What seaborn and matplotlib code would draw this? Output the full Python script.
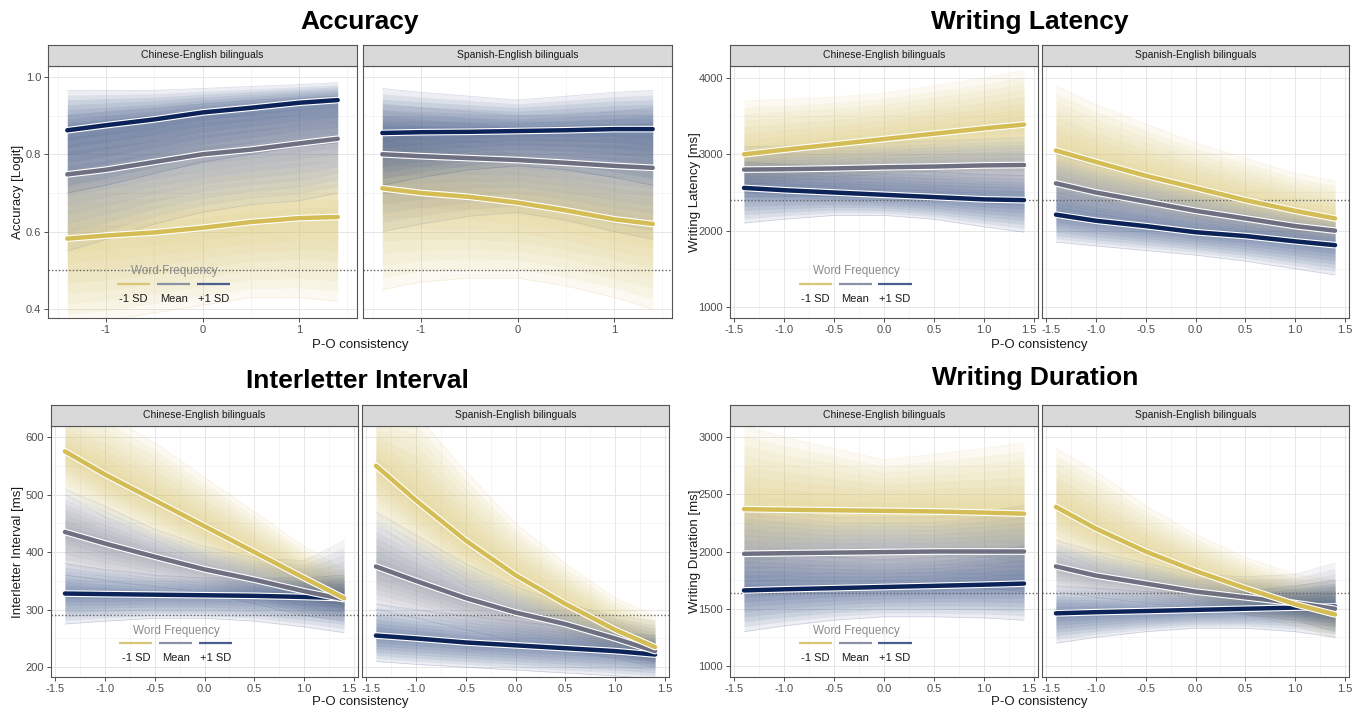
import numpy as np
import pandas as pd
import matplotlib.pyplot as plt
import matplotlib.patheffects as pe
import matplotlib.transforms as mtrans
import seaborn as sns

# -- data (rows: -1 SD, Mean, +1 SD word frequency)
x_pts = [-1.4, -1.0, -0.5, 0.0, 0.5, 1.0, 1.4]
groups = ["-1 SD", "Mean", "+1 SD"]
facets = ["Chinese-English bilinguals", "Spanish-English bilinguals"]

# Accuracy, Chinese-English
acc_ce_mean = [[0.582, 0.590, 0.598, 0.610, 0.625, 0.635, 0.638],
               [0.748, 0.760, 0.780, 0.800, 0.812, 0.828, 0.840],
               [0.862, 0.875, 0.890, 0.908, 0.920, 0.933, 0.940]]
acc_ce_lo = [[0.36, 0.37, 0.39, 0.41, 0.43, 0.43, 0.42],
             [0.55, 0.58, 0.62, 0.65, 0.67, 0.68, 0.70],
             [0.70, 0.72, 0.75, 0.78, 0.80, 0.82, 0.83]]
acc_ce_hi = [[0.76, 0.76, 0.77, 0.78, 0.79, 0.80, 0.80],
             [0.90, 0.91, 0.92, 0.93, 0.94, 0.945, 0.95],
             [0.965, 0.965, 0.965, 0.97, 0.975, 0.98, 0.985]]
# Accuracy, Spanish-English
acc_se_mean = [[0.712, 0.700, 0.690, 0.675, 0.655, 0.632, 0.620],
               [0.800, 0.795, 0.790, 0.785, 0.778, 0.770, 0.765],
               [0.855, 0.857, 0.858, 0.860, 0.862, 0.865, 0.865]]
acc_se_lo = [[0.45, 0.47, 0.48, 0.48, 0.46, 0.43, 0.40],
             [0.60, 0.62, 0.64, 0.65, 0.63, 0.60, 0.58],
             [0.72, 0.74, 0.76, 0.77, 0.76, 0.74, 0.72]]
acc_se_hi = [[0.86, 0.84, 0.82, 0.80, 0.78, 0.76, 0.75],
             [0.93, 0.92, 0.91, 0.90, 0.90, 0.91, 0.92],
             [0.97, 0.96, 0.95, 0.94, 0.95, 0.96, 0.965]]

# Writing latency, Chinese-English
lat_ce_mean = [[3000, 3060, 3130, 3200, 3270, 3340, 3390],
               [2800, 2805, 2815, 2830, 2840, 2855, 2860],
               [2560, 2530, 2500, 2470, 2440, 2410, 2400]]
lat_ce_lo = [[2600, 2650, 2700, 2750, 2780, 2800, 2800],
             [2450, 2450, 2450, 2450, 2420, 2400, 2380],
             [2100, 2150, 2200, 2200, 2150, 2050, 1980]]
lat_ce_hi = [[3700, 3720, 3750, 3800, 3900, 4000, 4100],
             [3100, 3110, 3130, 3150, 3180, 3200, 3220],
             [2900, 2870, 2840, 2800, 2770, 2740, 2720]]
# Writing latency, Spanish-English
lat_se_mean = [[3050, 2900, 2720, 2560, 2400, 2260, 2160],
               [2620, 2500, 2380, 2260, 2160, 2060, 2000],
               [2210, 2130, 2060, 1980, 1930, 1860, 1810]]
lat_se_lo = [[2500, 2400, 2280, 2150, 2050, 1950, 1900],
             [2200, 2120, 2050, 1980, 1900, 1830, 1780],
             [1850, 1800, 1740, 1680, 1600, 1500, 1420]]
lat_se_hi = [[3900, 3650, 3400, 3150, 2950, 2750, 2650],
             [3000, 2850, 2700, 2550, 2400, 2280, 2200],
             [2600, 2480, 2350, 2250, 2150, 2070, 2000]]

# Interletter interval, Chinese-English
ili_ce_mean = [[575, 535, 490, 445, 400, 355, 320],
               [435, 415, 392, 370, 352, 332, 318],
               [328, 327, 326, 325, 324, 322, 320]]
ili_ce_lo = [[500, 460, 420, 380, 350, 320, 300],
             [360, 350, 340, 330, 310, 290, 280],
             [275, 280, 285, 285, 280, 270, 260]]
ili_ce_hi = [[650, 640, 590, 530, 470, 410, 370],
             [510, 480, 440, 410, 390, 385, 420],
             [380, 370, 360, 355, 355, 355, 360]]
# Interletter interval, Spanish-English
ili_se_mean = [[550, 490, 420, 360, 310, 265, 235],
               [375, 350, 320, 295, 275, 250, 228],
               [255, 250, 243, 238, 233, 228, 222]]
ili_se_lo = [[450, 400, 340, 300, 260, 230, 210],
             [300, 285, 265, 245, 230, 215, 200],
             [210, 205, 200, 195, 190, 185, 180]]
ili_se_hi = [[650, 640, 540, 450, 380, 320, 290],
             [470, 430, 380, 340, 310, 290, 280],
             [310, 300, 290, 280, 270, 260, 255]]

# Writing duration, Chinese-English
dur_ce_mean = [[2370, 2365, 2360, 2355, 2350, 2340, 2330],
               [1980, 1985, 1990, 1995, 2000, 2000, 2000],
               [1660, 1670, 1680, 1690, 1700, 1710, 1720]]
dur_ce_lo = [[1900, 1950, 2000, 2050, 2000, 1950, 1900],
             [1650, 1680, 1700, 1700, 1700, 1680, 1650],
             [1300, 1350, 1400, 1430, 1430, 1420, 1400]]
dur_ce_hi = [[3100, 3000, 2900, 2800, 2850, 2900, 2950],
             [2400, 2350, 2300, 2300, 2300, 2350, 2400],
             [2000, 1980, 1950, 1930, 1950, 2000, 2050]]
# Writing duration, Spanish-English
dur_se_mean = [[2390, 2200, 2000, 1830, 1680, 1540, 1450],
               [1870, 1790, 1720, 1650, 1600, 1550, 1500],
               [1460, 1470, 1480, 1490, 1500, 1510, 1520]]
dur_se_lo = [[2000, 1850, 1700, 1570, 1450, 1350, 1250],
             [1650, 1600, 1550, 1500, 1450, 1400, 1300],
             [1200, 1250, 1300, 1330, 1330, 1300, 1250]]
dur_se_hi = [[2900, 2700, 2400, 2150, 1950, 1800, 1750],
             [2100, 2000, 1900, 1800, 1780, 1800, 1900],
             [1700, 1680, 1650, 1630, 1650, 1700, 1750]]

# reference (dotted) lines
acc_ref, lat_ref, ili_ref, dur_ref = 0.5, 2400, 290, 1640

# -- colours
mean_cols = ["#D4BD55", "#6E7082", "#0B2358"]
band_cols = ["#D9C36B", "#7D8493", "#2E4A80"]
legend_cols = ["#D8C678", "#8B92A3", "#4B5E92"]

sns.set_theme(style="white")
plt.rcParams["font.family"] = ["Liberation Sans", "DejaVu Sans"]

W, H = 1357, 710
fig = plt.figure(figsize=(W / 100, H / 100), dpi=100)


def px_axes(x0, x1, y0, y1):
    # pixel box (y from top) -> figure axes
    return fig.add_axes([x0 / W, 1 - y1 / H, (x1 - x0) / W, (y1 - y0) / H])


def to_long(mean):
    rows = []
    for g, vals in zip(groups, mean):
        for xv, yv in zip(x_pts, vals):
            rows.append({"x": xv, "y": yv, "group": g})
    return pd.DataFrame(rows)


def draw_facet(ax, mean, lo, hi, ref):
    xs = np.array(x_pts)
    # shaded draws: layered bands, denser towards the mean curve
    shades = [1.0, 0.88, 0.76, 0.64, 0.52, 0.40, 0.28, 0.16]
    for g in range(3):
        m, l, h = np.array(mean[g]), np.array(lo[g]), np.array(hi[g])
        for k in shades:
            ax.fill_between(xs, m + k * (l - m), m + k * (h - m),
                            color=band_cols[g], alpha=0.09, lw=0, zorder=2)
        ax.plot(xs, h, color=band_cols[g], alpha=0.2, lw=0.5, zorder=2)
        ax.plot(xs, l, color=band_cols[g], alpha=0.2, lw=0.5, zorder=2)
    ax.axhline(ref, color="#666666", ls=(0, (1, 1.5)), lw=1.0, zorder=3)
    df = to_long(mean)
    sns.lineplot(data=df, x="x", y="y", hue="group", hue_order=groups[::-1],
                 palette=dict(zip(groups, mean_cols)), ax=ax, lw=3.2,
                 legend=False, zorder=4,
                 path_effects=[pe.Stroke(linewidth=4.8, foreground="white"), pe.Normal()])


def style_facet(ax, xlim, ylim, xticks, yticks, xminor, yminor, idx, xfmt):
    ax.set_xlim(*xlim)
    ax.set_ylim(*ylim)
    ax.set_xticks(xticks)
    ax.set_yticks(yticks)
    ax.set_xticks(xminor, minor=True)
    ax.set_yticks(yminor, minor=True)
    ax.grid(True, which="major", color="#E6E6E6", lw=0.7, zorder=0)
    ax.grid(True, which="minor", color="#F2F2F2", lw=0.5, zorder=0)
    ax.set_axisbelow(True)
    ax.set_xticklabels([xfmt.format(t) for t in xticks], fontsize=8, color="#4D4D4D")
    ax.tick_params(which="major", length=3, width=0.6, color="#333333", pad=2, bottom=True)
    ax.tick_params(which="minor", length=0)
    # nudge the labels that meet at the facet boundary
    labs = ax.get_xticklabels()
    if len(xticks) > 3:
        lab = labs[-1] if idx == 0 else labs[0]
        dx = -3.5 if idx == 0 else 3.5
        lab.set_transform(lab.get_transform() +
                          mtrans.ScaledTranslation(dx / 72, 0, fig.dpi_scale_trans))
    if idx == 0:
        ax.set_yticklabels([str(t) for t in yticks], fontsize=8, color="#4D4D4D")
        ax.tick_params(axis="y", left=True)
    else:
        ax.tick_params(axis="y", left=False, labelleft=False)
    ax.set_xlabel("")
    ax.set_ylabel("")
    for s in ax.spines.values():
        s.set_color("#555555")
        s.set_linewidth(0.8)
        s.set_zorder(6)


def add_strip(x0, x1, y0, y1, label):
    sax = px_axes(x0, x1, y0, y1)
    sax.set_facecolor("#D9D9D9")
    sax.set_xticks([])
    sax.set_yticks([])
    for s in sax.spines.values():
        s.set_color("#555555")
        s.set_linewidth(0.8)
    sax.text(0.5, 0.5, label, ha="center", va="center", fontsize=7.5, color="#1A1A1A",
             transform=sax.transAxes)


def add_legend(ax):
    ax.text(0.41, 0.185, "Word Frequency", transform=ax.transAxes, ha="center",
            va="center", fontsize=8.5, color="#8C8C8C", zorder=7)
    spans = [(0.223, 0.33), (0.353, 0.46), (0.482, 0.59)]
    for (a, b), c, g in zip(spans, legend_cols, groups):
        ax.plot([a, b], [0.135, 0.135], transform=ax.transAxes, color=c, lw=1.6,
                solid_capstyle="butt", zorder=7)
        ax.text((a + b) / 2, 0.075, g, transform=ax.transAxes, ha="center",
                va="center", fontsize=8, color="#1A1A1A", zorder=7)


def make_panel(title, ylabel, boxes, strip_y, plot_y, data, ref, ylim, yticks, yminor,
               xlim, xticks, xminor, xfmt, title_xy, ylab_x, xlab_y):
    axes = []
    for i, (x0, x1) in enumerate(boxes):
        ax = px_axes(x0, x1, plot_y[0], plot_y[1])
        mean, lo, hi = data[i]
        draw_facet(ax, mean, lo, hi, ref)
        style_facet(ax, xlim, ylim, xticks, yticks, xminor, yminor, i, xfmt)
        add_strip(x0, x1, strip_y[0], strip_y[1], facets[i])
        axes.append(ax)
    add_legend(axes[0])
    fig.text(title_xy[0] / W, 1 - title_xy[1] / H, title, ha="center", va="center",
             fontsize=19, fontweight="bold", color="black")
    fig.text(ylab_x / W, 1 - (plot_y[0] + plot_y[1]) / 2 / H, ylabel, rotation=90,
             ha="center", va="center", fontsize=9.5, color="#1A1A1A")
    mid = (boxes[0][0] + boxes[1][1]) / 2
    fig.text(mid / W, 1 - xlab_y / H, "P-O consistency", ha="center", va="center",
             fontsize=9.5, color="#1A1A1A")


x_half = [-1.5, -1.0, -0.5, 0.0, 0.5, 1.0, 1.5]
x_half_minor = [-1.25, -0.75, -0.25, 0.25, 0.75, 1.25]

make_panel("Accuracy", "Accuracy [Logit]", [(48, 357), (363, 672)], (45, 66), (66, 318),
           [(acc_ce_mean, acc_ce_lo, acc_ce_hi), (acc_se_mean, acc_se_lo, acc_se_hi)],
           acc_ref, (0.377, 1.028), [0.4, 0.6, 0.8, 1.0], [0.5, 0.7, 0.9],
           (-1.6, 1.6), [-1, 0, 1], [-1.5, -0.5, 0.5, 1.5], "{:.0f}",
           (360, 22), 18, 345)

make_panel("Writing Latency", "Writing Latency [ms]", [(730, 1038), (1042, 1349)], (45, 66),
           (66, 318),
           [(lat_ce_mean, lat_ce_lo, lat_ce_hi), (lat_se_mean, lat_se_lo, lat_se_hi)],
           lat_ref, (856, 4157), [1000, 2000, 3000, 4000], [1500, 2500, 3500],
           (-1.54, 1.54), x_half, x_half_minor, "{:.1f}",
           (1030, 22), 695, 345)

make_panel("Interletter Interval", "Interletter Interval [ms]", [(51, 358), (362, 669)],
           (405, 426), (426, 677),
           [(ili_ce_mean, ili_ce_lo, ili_ce_hi), (ili_se_mean, ili_se_lo, ili_se_hi)],
           ili_ref, (183, 619), [200, 300, 400, 500, 600], [250, 350, 450, 550],
           (-1.54, 1.54), x_half, x_half_minor, "{:.1f}",
           (357, 381), 18, 702)

make_panel("Writing Duration", "Writing Duration [ms]", [(730, 1038), (1042, 1349)],
           (405, 426), (426, 677),
           [(dur_ce_mean, dur_ce_lo, dur_ce_hi), (dur_se_mean, dur_se_lo, dur_se_hi)],
           dur_ref, (904, 3096), [1000, 1500, 2000, 2500, 3000], [1250, 1750, 2250, 2750],
           (-1.54, 1.54), x_half, x_half_minor, "{:.1f}",
           (1035, 378), 695, 702)

fig.savefig("out.png", dpi=100)
